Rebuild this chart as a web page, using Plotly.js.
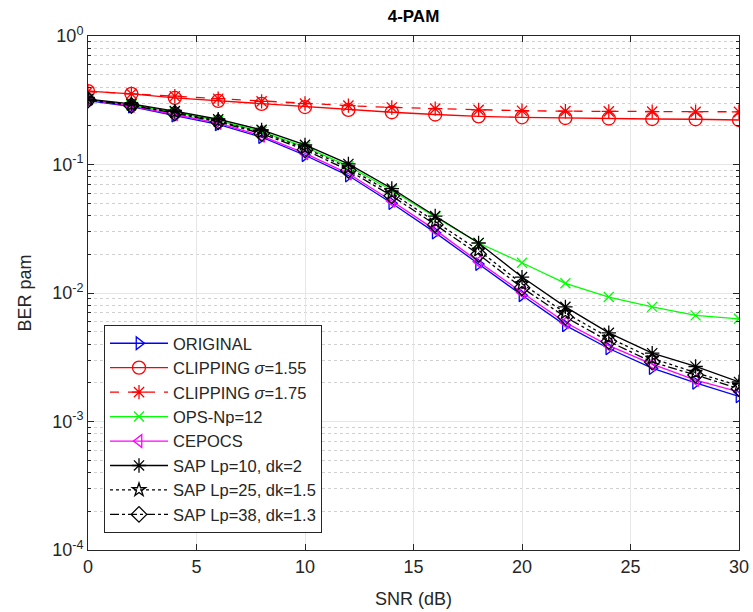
<!DOCTYPE html>
<html>
<head>
<meta charset="utf-8">
<script src="https://cdn.plot.ly/plotly-3.0.1.min.js"></script>
<style>html,body{margin:0;padding:0;background:#fff;}#chart{width:753px;height:612px;}</style>
</head>
<body>
<div id="chart"></div>
<script>
const snr = [0,2,4,6,8,10,12,14,16,18,20,22,24,26,28,30];
const original = [0.315,0.282,0.240,0.205,0.163,0.118,0.082,0.050,0.0295,0.0168,0.0096,0.0056,0.0037,0.0026,0.0020,0.00157];
const clip155 = [0.373,0.355,0.330,0.313,0.296,0.280,0.266,0.255,0.245,0.237,0.233,0.230,0.228,0.226,0.225,0.222];
const clip175 = [0.370,0.355,0.340,0.325,0.310,0.298,0.287,0.278,0.272,0.266,0.262,0.260,0.259,0.258,0.257,0.257];
const opsNp12 = [0.320,0.290,0.255,0.220,0.180,0.137,0.097,0.063,0.039,0.0245,0.0172,0.0119,0.0093,0.0078,0.0067,0.0063];
const cepocs = [0.320,0.285,0.245,0.210,0.167,0.122,0.085,0.052,0.031,0.0175,0.0101,0.0059,0.0039,0.0028,0.0021,0.0017];
const sap10 = [0.323,0.296,0.260,0.225,0.186,0.142,0.101,0.065,0.0397,0.0245,0.0133,0.0078,0.0049,0.0034,0.00268,0.00203];
const sap25 = [0.320,0.291,0.255,0.218,0.178,0.134,0.094,0.060,0.036,0.0215,0.0118,0.0070,0.0045,0.0031,0.0024,0.0019];
const sap38 = [0.318,0.288,0.251,0.215,0.174,0.130,0.090,0.057,0.034,0.0200,0.0110,0.0065,0.0042,0.0029,0.0023,0.0018];

const seriesNames = ['ORIGINAL','CLIPPING <i>σ</i>=1.55','CLIPPING <i>σ</i>=1.75','OPS-Np=12','CEPOCS','SAP Lp=10, dk=2','SAP Lp=25, dk=1.5','SAP Lp=38, dk=1.3'];
const yTickVals = [1e-4,1e-3,1e-2,1e-1,1];
const yTickText = ['10<sup>-4</sup>','10<sup>-3</sup>','10<sup>-2</sup>','10<sup>-1</sup>','10<sup>0</sup>'];
const xTickVals = [0,5,10,15,20,25,30];

const seriesData = [original, clip155, clip175, opsNp12, cepocs, sap10, sap25, sap38];
const styles = [
  {color:'#0000FF', dash:'solid', symbol:'triangle-right-open', size:11},
  {color:'#FF0000', dash:'solid', symbol:'circle-open', size:13},
  {color:'#FF0000', dash:'dash', symbol:'asterisk-open', size:12},
  {color:'#00FF00', dash:'solid', symbol:'x-thin-open', size:10},
  {color:'#FF00FF', dash:'solid', symbol:'triangle-left-open', size:11},
  {color:'#000000', dash:'solid', symbol:'asterisk-open', size:12},
  {color:'#000000', dash:'dot', symbol:'star-open', size:10},
  {color:'#000000', dash:'dashdot', symbol:'diamond-open', size:12}
];

const traces = seriesData.map((ys,i)=>({
  x: snr, y: ys, name: seriesNames[i], type:'scatter', mode:'lines+markers',
  legendgroup: 'g'+i,
  line:{color:styles[i].color, width:1.3, dash:styles[i].dash},
  marker:{symbol:styles[i].symbol, size:styles[i].size, color:styles[i].color, line:{color:styles[i].color, width:1.3}}
}));

const font = 'Liberation Sans, Arial, Helvetica, sans-serif';
const layout = {
  width:753, height:612,
  margin:{l:88, r:14, t:36, b:62},
  paper_bgcolor:'#fff', plot_bgcolor:'#fff',
  font:{family:font, size:17, color:'#262626'},
  showlegend:true,
  title:{text:'<b>4-PAM</b>', x:0.5, xref:'paper', y:1-16/612, yref:'container', yanchor:'middle', font:{size:17, color:'#000'}},
  xaxis:{
    range:[0,30], tickvals:xTickVals, ticks:'inside', ticklen:6, tickcolor:'#262626',
    showline:true, linecolor:'#262626', linewidth:1, mirror:'ticks',
    showgrid:true, gridcolor:'#e6e6e6', gridwidth:1, zeroline:false,
    tickfont:{size:18}, title:{text:'SNR (dB)', font:{size:18}, standoff:16}
  },
  yaxis:{
    type:'log', range:[-4,0], tickvals:yTickVals, ticktext:yTickText,
    ticks:'inside', ticklen:6, tickcolor:'#262626',
    showline:true, linecolor:'#262626', linewidth:1, mirror:'ticks',
    showgrid:true, gridcolor:'#e6e6e6', gridwidth:1, zeroline:false,
    tickfont:{size:18}, title:{text:'BER pam', font:{size:18}, standoff:15},
    minor:{dtick:'D1', showgrid:true, gridcolor:'#d0d0d0', griddash:'dot', ticks:'inside', ticklen:3, tickcolor:'#262626'}
  },
  legend:{
    x:(104-88)/651, y:(550-533)/514, xanchor:'left', yanchor:'bottom',
    bgcolor:'#fff', bordercolor:'#262626', borderwidth:1,
    font:{size:16.5, color:'#262626'}, tracegroupgap:0, itemwidth:58
  }
};

Plotly.newPlot('chart', traces, layout, {displayModeBar:false, staticPlot:true});
</script>
</body>
</html>
